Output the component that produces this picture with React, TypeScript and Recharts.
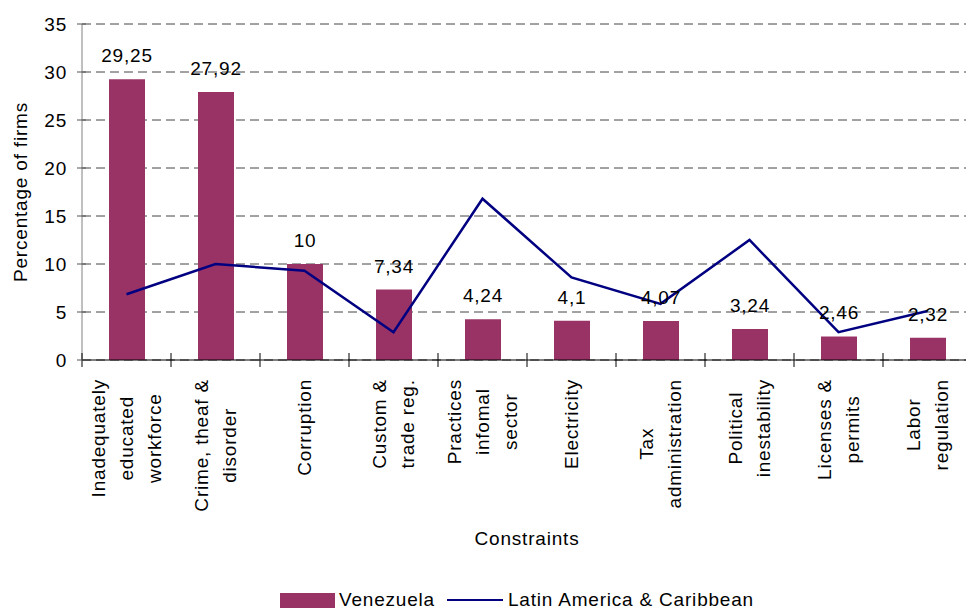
import React from "react";
import {
  Bar,
  CartesianGrid,
  ComposedChart,
  LabelList,
  Line,
  XAxis,
  YAxis,
} from "recharts";

const categories = [
  "Inadequately\neducated\nworkforce",
  "Crime, theaf &\ndisorder",
  "Corruption",
  "Custom &\ntrade reg.",
  "Practices\ninfomal\nsector",
  "Electricity",
  "Tax\nadministration",
  "Political\ninestability",
  "Licenses &\npermits",
  "Labor\nregulation",
];

const venezuela = [29.25, 27.92, 10, 7.34, 4.24, 4.1, 4.07, 3.24, 2.46, 2.32];
const latinAmerica = [6.85, 10.0, 9.3, 2.9, 16.8, 8.6, 5.85, 12.5, 2.9, 5.1];
const yTicks = [0, 5, 10, 15, 20, 25, 30, 35];

const seriesNames = { bar: "Venezuela", line: "Latin America & Caribbean" };

const FONT = "'Liberation Sans', Arial, sans-serif";
const FS = 19;
const LS = 0.8;
const BAR_COLOR = "#993366";
const LINE_COLOR = "#000080";

const data = categories.map((name, i) => ({
  name,
  venezuela: venezuela[i],
  lac: latinAmerica[i],
}));

let measureCtx: CanvasRenderingContext2D | null = null;
function textWidth(s: string) {
  if (!measureCtx) {
    measureCtx = document.createElement("canvas").getContext("2d");
  }
  if (!measureCtx) return s.length * FS * 0.55;
  measureCtx.font = `${FS}px ${FONT}`;
  return measureCtx.measureText(s).width + LS * s.length;
}

function XTick(props: any) {
  const { x, y, payload, width, visibleTicksCount } = props;
  const band = width / visibleTicksCount;
  const lines = String(payload.value).split("\n");
  const maxW = Math.max(...lines.map(textWidth));
  const cy = y + 19 + maxW / 2;
  return (
    <g>
      <line x1={x - band / 2} x2={x - band / 2} y1={y - 7} y2={y + 7} stroke="#000" />
      {lines.map((ln, i) => {
        const bx = x + (i - (lines.length - 1) / 2) * 28 + 6.5;
        return (
          <text
            key={i}
            x={bx}
            y={cy}
            textAnchor="middle"
            transform={`rotate(-90, ${bx}, ${cy})`}
            fontFamily={FONT}
            fontSize={FS}
            style={{ letterSpacing: LS }}
            fill="#000"
          >
            {ln}
          </text>
        );
      })}
    </g>
  );
}

function YTick(props: any) {
  const { x, y, payload } = props;
  return (
    <g>
      <line x1={x - 5} x2={x + 4} y1={y} y2={y} stroke="#555" />
      <text
        x={x - 15}
        y={y + 7}
        textAnchor="end"
        fontFamily={FONT}
        fontSize={FS}
        style={{ letterSpacing: LS }}
        fill="#000"
      >
        {payload.value}
      </text>
    </g>
  );
}

export default function App() {
  return (
    <div
      style={{
        position: "absolute",
        left: 0,
        top: 0,
        width: 966,
        height: 610,
        overflow: "hidden",
        background: "#fff",
      }}
    >
      <ComposedChart
        width={980}
        height={610}
        data={data}
        margin={{ top: 24, right: 8, left: 0, bottom: 0 }}
        barCategoryGap={0}
      >
        <CartesianGrid
          horizontal
          vertical={false}
          strokeDasharray="9 5"
          stroke="#444"
        />
        <XAxis
          dataKey="name"
          height={250}
          interval={0}
          tickSize={0}
          tickMargin={0}
          tickLine={false}
          axisLine={{ stroke: "#000" }}
          tick={<XTick />}
          label={{
            value: "Constraints",
            position: "insideTop",
            offset: 172,
            fontFamily: FONT,
            fontSize: FS,
            fill: "#000",
            style: { letterSpacing: LS },
          }}
        />
        <YAxis
          width={82}
          domain={[0, 35]}
          ticks={yTicks}
          interval={0}
          tickSize={0}
          tickMargin={0}
          tickLine={false}
          axisLine={{ stroke: "#808080" }}
          tick={<YTick />}
          label={{
            value: "Percentage of firms",
            angle: -90,
            position: "insideLeft",
            offset: 20,
            fontFamily: FONT,
            fontSize: FS,
            fill: "#000",
            style: { letterSpacing: LS, textAnchor: "middle" },
          }}
        />
        <Bar
          dataKey="venezuela"
          name={seriesNames.bar}
          fill={BAR_COLOR}
          barSize={36}
          isAnimationActive={false}
        >
          <LabelList
            dataKey="venezuela"
            position="top"
            offset={17}
            formatter={(v: any) => String(v).replace(".", ",")}
            fontFamily={FONT}
            fontSize={FS}
            fill="#000"
            style={{ letterSpacing: LS }}
          />
        </Bar>
        <Line
          dataKey="lac"
          name={seriesNames.line}
          type="linear"
          stroke={LINE_COLOR}
          strokeWidth={2.5}
          dot={false}
          activeDot={false}
          isAnimationActive={false}
        />
      </ComposedChart>
      <div
        style={{
          position: "absolute",
          top: 589,
          left: 280,
          display: "flex",
          alignItems: "center",
          fontFamily: FONT,
          fontSize: FS,
          letterSpacing: LS,
          color: "#000",
          whiteSpace: "nowrap",
        }}
      >
        <span
          style={{
            display: "inline-block",
            width: 55,
            height: 15,
            background: BAR_COLOR,
            marginRight: 4,
          }}
        />
        <span>{seriesNames.bar}</span>
        <span
          style={{
            display: "inline-block",
            width: 56,
            height: 2.5,
            background: LINE_COLOR,
            marginLeft: 12,
            marginRight: 5,
          }}
        />
        <span>{seriesNames.line}</span>
      </div>
    </div>
  );
}
